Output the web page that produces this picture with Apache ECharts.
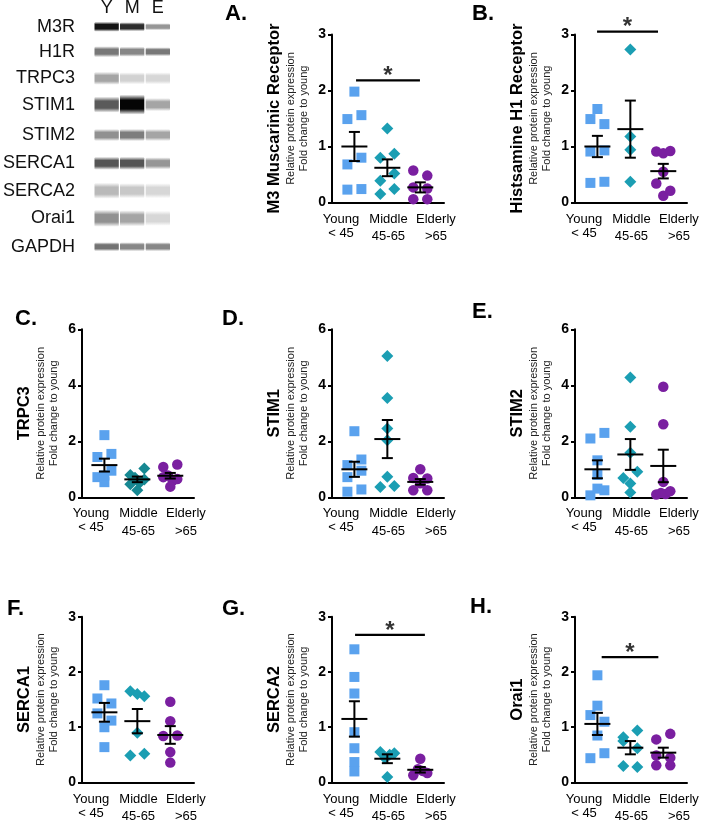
<!DOCTYPE html>
<html>
<head>
<meta charset="utf-8">
<script src="https://cdn.jsdelivr.net/npm/echarts@6/dist/echarts.min.js"></script>
<style>
html,body{margin:0;padding:0;background:#fff;}
#c{width:702px;height:823px;}
</style>
</head>
<body>
<div id="c"></div>
<script>
// ---------------- DATA ----------------
const groups = ['Young', 'Middle', 'Elderly'];
const groupSub = ['< 45', '45-65', '>65'];
const panelLetters = ['A.', 'B.', 'C.', 'D.', 'E.', 'F.', 'G.', 'H.'];
const proteinTitles = ['M3 Muscarinic Receptor', 'Histsamine H1 Receptor', 'TRPC3', 'STIM1', 'STIM2', 'SERCA1', 'SERCA2', 'Orai1'];
const yAxisLine1 = 'Relative protein expression';
const yAxisLine2 = 'Fold change to young';
const yMaxes = [3, 3, 6, 6, 6, 3, 3, 3];
const yIntervals = [1, 1, 2, 2, 2, 1, 1, 1];

// A. M3 muscarinic receptor
const m3Young = [1.49, 1.98, 1.56, 0.68, 0.80, 0.23, 0.24];
const m3Middle = [1.32, 0.80, 0.87, 0.39, 0.52, 0.15, 0.24];
const m3Elderly = [0.57, 0.48, 0.27, 0.25, 0.06, 0.06];
const m3Mean = [1.00, 0.62, 0.27];
const m3Sem = [0.26, 0.15, 0.09];
// B. Histamine H1 receptor
const h1Young = [1.67, 1.49, 1.40, 0.91, 0.93, 0.35, 0.37];
const h1Middle = [2.73, 1.18, 0.94, 0.37];
const h1Elderly = [0.91, 0.88, 0.92, 0.55, 0.12, 0.34, 0.21];
const h1Mean = [1.00, 1.31, 0.56];
const h1Sem = [0.19, 0.51, 0.13];
// C. TRPC3
const trpc3Young = [2.22, 1.44, 1.55, 0.54, 0.72, 0.78, 0.95];
const trpc3Middle = [0.80, 1.03, 0.47, 0.70, 0.52, 0.64, 0.25];
const trpc3Elderly = [1.08, 1.17, 0.72, 0.78, 0.60, 0.65, 0.38];
const trpc3Mean = [1.15, 0.64, 0.77];
const trpc3Sem = [0.23, 0.10, 0.10];
// D. STIM1
const stim1Young = [2.36, 1.15, 1.35, 0.72, 0.95, 0.20, 0.28];
const stim1Middle = [5.05, 3.55, 2.46, 2.04, 0.73, 0.37, 0.40];
const stim1Elderly = [1.00, 0.69, 0.50, 0.67, 0.25, 0.25];
const stim1Mean = [1.00, 2.08, 0.55];
const stim1Sem = [0.27, 0.68, 0.10];
// E. STIM2
const stim2Young = [2.10, 2.30, 1.32, 0.80, 0.07, 0.31, 0.25];
const stim2Middle = [4.28, 2.52, 1.59, 0.69, 0.91, 0.17, 0.49];
const stim2Elderly = [3.95, 2.61, 0.55, 0.10, 0.15, 0.12, 0.22];
const stim2Mean = [1.00, 1.53, 1.12];
const stim2Sem = [0.32, 0.55, 0.58];
// F. SERCA1
const serca1Young = [1.76, 1.52, 1.43, 1.25, 1.12, 1.00, 0.64];
const serca1Middle = [1.65, 1.60, 1.56, 0.90, 0.49, 0.52];
const serca1Elderly = [1.46, 1.11, 0.84, 0.85, 0.55, 0.36];
const serca1Mean = [1.27, 1.11, 0.86];
const serca1Sem = [0.17, 0.22, 0.16];
// G. SERCA2
const serca2Young = [2.41, 1.91, 1.61, 0.91, 0.62, 0.37, 0.20];
const serca2Middle = [0.55, 0.44, 0.50, 0.53, 0.10];
const serca2Elderly = [0.13, 0.24, 0.43, 0.21, 0.17];
const serca2Mean = [1.15, 0.43, 0.23];
const serca2Sem = [0.32, 0.08, 0.05];
// H. Orai1
const orai1Young = [1.94, 1.39, 1.22, 1.10, 0.85, 0.44, 0.53];
const orai1Middle = [0.82, 0.94, 0.75, 0.62, 0.30, 0.28];
const orai1Elderly = [0.78, 0.88, 0.49, 0.45, 0.31, 0.31];
const orai1Mean = [1.06, 0.63, 0.54];
const orai1Sem = [0.20, 0.12, 0.09];

// significance (Young vs Elderly) : panel index, from/to (group index), height
const sigPanel = [0, 1, 6, 7];
const sigFrom = [0.05, -0.01, 0.02, 0.13];
const sigTo = [1.99, 1.84, 2.14, 1.85];
const sigY = [2.18, 3.05, 2.67, 2.27];
const sigText = ['*', '*', '*', '*'];

// western blot
const blotRows = ['M3R', 'H1R', 'TRPC3', 'STIM1', 'STIM2', 'SERCA1', 'SERCA2', 'Orai1', 'GAPDH'];
const blotLanes = ['Y', 'M', 'E'];
const blotGray = [
  [20, 45, 150], [120, 135, 120], [165, 210, 215], [90, 5, 165], [145, 125, 165],
  [85, 85, 150], [185, 200, 215], [145, 165, 215], [115, 135, 135]
];

// ---------------- LAYOUT / STYLE ----------------
const FONT = '"Liberation Sans", Arial, Helvetica, sans-serif';
const PLOT_W = 112, PLOT_H = 168;
const GRID_LEFT = [332, 575, 82, 332, 575, 82, 332, 575];
const GRID_TOP = [34.5, 34.5, 329.3, 329.3, 329.3, 616.7, 616.7, 616.7];
const LETTER_POS = [[225, 7], [472, 7], [15, 312], [222, 312], [472, 305], [7, 602], [222, 602], [470, 600]];
const PT_MIN = -0.68, PT_MAX = 2.72;   // point axis
const LB_MIN = -0.19, LB_MAX = 2.17;   // label axis
const SPREAD = 7 / (PLOT_W / (PT_MAX - PT_MIN));
const CLUSTER_PX = 8;
const SYMBOLS = ['rect', 'diamond', 'circle'];
const SYMBOL_SIZES = [10, 12, 10.5];
const COLORS = ['#5aa2ee', '#1b9eb3', '#7a1fa0'];
const C_TEAL = '#168892';
const BLOT_ROW_Y = [26.7, 51.7, 78.3, 104.6, 135, 163.3, 190.7, 218.3, 246.7];
const BLOT_BAND_H = [[6, 5, 3], [7, 6, 5], [9, 8, 8], [12, 16, 9], [8, 8, 8], [9, 9, 8], [12, 11, 11], [13, 12, 11], [5, 5, 5]];
const BLOT_LANE_X = [94.5, 120, 145.7];
const BLOT_LANE_W = 24.3;

const panelValues = [
  [m3Young, m3Middle, m3Elderly], [h1Young, h1Middle, h1Elderly],
  [trpc3Young, trpc3Middle, trpc3Elderly], [stim1Young, stim1Middle, stim1Elderly],
  [stim2Young, stim2Middle, stim2Elderly], [serca1Young, serca1Middle, serca1Elderly],
  [serca2Young, serca2Middle, serca2Elderly], [orai1Young, orai1Middle, orai1Elderly]
];
const panelMeans = [m3Mean, h1Mean, trpc3Mean, stim1Mean, stim2Mean, serca1Mean, serca2Mean, orai1Mean];
const panelSems = [m3Sem, h1Sem, trpc3Sem, stim1Sem, stim2Sem, serca1Sem, serca2Sem, orai1Sem];

// beeswarm-like horizontal spreading of points with close values
function swarmOffsets(vals, yMax) {
  const thr = CLUSTER_PX / (PLOT_H / yMax);
  const sorted = vals.map((v, i) => ({ v, i })).sort((a, b) => b.v - a.v || a.i - b.i);
  const off = new Array(vals.length).fill(0);
  let k = 0;
  while (k < sorted.length) {
    const anchor = sorted[k].v;
    let j = k;
    while (j < sorted.length && anchor - sorted[j].v < thr) j++;
    const mem = sorted.slice(k, j).sort((a, b) => a.i - b.i);
    const n = mem.length;
    mem.forEach((m, q) => { off[m.i] = n === 1 ? 0 : (-1 + 2 * q / (n - 1)) * SPREAD; });
    k = j;
  }
  return off;
}

const grids = [], xAxes = [], yAxes = [], series = [], graphics = [];

for (let p = 0; p < 8; p++) {
  grids.push({ left: GRID_LEFT[p], top: GRID_TOP[p], width: PLOT_W, height: PLOT_H, containLabel: false });
  xAxes.push({ type: 'value', gridIndex: p, min: PT_MIN, max: PT_MAX, show: false });
  xAxes.push({
    type: 'value', gridIndex: p, min: LB_MIN, max: LB_MAX, position: 'bottom',
    axisLine: { show: true, onZero: false, lineStyle: { color: '#000', width: 2 } },
    axisTick: { show: false }, splitLine: { show: false },
    axisLabel: {
      customValues: [0, 1, 2], margin: 9, color: '#000', fontFamily: FONT,
      formatter: function (v) {
        const i = Math.round(v);
        return '{a|' + groups[i] + '}\n{' + (i === 0 ? 'b' : 'c') + '|' + groupSub[i] + '}';
      },
      rich: {
        a: { fontSize: 13, lineHeight: 15, fontFamily: FONT, color: '#000' },
        b: { fontSize: 13, lineHeight: 13, fontFamily: FONT, color: '#000' },
        c: { fontSize: 13, lineHeight: 20, fontFamily: FONT, color: '#000' }
      }
    }
  });
  yAxes.push({
    type: 'value', gridIndex: p, min: 0, max: yMaxes[p], interval: yIntervals[p],
    axisLine: { show: true, onZero: false, lineStyle: { color: '#000', width: 2 } },
    axisTick: { show: true, length: 4, lineStyle: { color: '#000', width: 2 } },
    splitLine: { show: false },
    axisLabel: { fontFamily: FONT, fontWeight: 'bold', fontSize: 14, color: '#000', margin: 6 },
    name: '{t|' + proteinTitles[p] + '}\n{s|' + yAxisLine1 + '}\n{s|' + yAxisLine2 + '}',
    nameLocation: 'middle', nameRotate: 90, nameGap: 22,
    nameTextStyle: {
      align: 'center',
      rich: {
        t: { fontFamily: FONT, fontSize: 16.5, fontWeight: 'bold', lineHeight: 19, color: '#000', align: 'center' },
        s: { fontFamily: FONT, fontSize: 11, lineHeight: 13, color: '#222', align: 'center' }
      }
    }
  });

  for (let g = 0; g < 3; g++) {
    const vals = panelValues[p][g];
    const off = swarmOffsets(vals, yMaxes[p]);
    const color = (p === 2 && g === 1) ? C_TEAL : COLORS[g];
    series.push({
      type: 'scatter', xAxisIndex: 2 * p, yAxisIndex: p,
      symbol: SYMBOLS[g], symbolSize: SYMBOL_SIZES[g],
      itemStyle: { color: color, opacity: 1 },
      data: vals.map((v, i) => [g + off[i], v]),
      z: 2, silent: true
    });
  }

  series.push({
    type: 'custom', xAxisIndex: 2 * p, yAxisIndex: p, z: 5, silent: true,
    data: panelMeans[p].map((m, g) => [g, m, panelSems[p][g]]),
    renderItem: function (params, api) {
      const x = api.value(0), m = api.value(1), s = api.value(2);
      const c = api.coord([x, m]);
      const hi = api.coord([x, m + s]);
      const lo = api.coord([x, m - s]);
      const st = { stroke: '#000', lineWidth: 2, fill: null };
      return {
        type: 'group', children: [
          { type: 'line', shape: { x1: c[0] - 13, y1: c[1], x2: c[0] + 13, y2: c[1] }, style: st },
          { type: 'line', shape: { x1: c[0], y1: hi[1], x2: c[0], y2: lo[1] }, style: st },
          { type: 'line', shape: { x1: c[0] - 5.5, y1: hi[1], x2: c[0] + 5.5, y2: hi[1] }, style: st },
          { type: 'line', shape: { x1: c[0] - 5.5, y1: lo[1], x2: c[0] + 5.5, y2: lo[1] }, style: st }
        ]
      };
    }
  });

  graphics.push({
    type: 'text', left: LETTER_POS[p][0], top: LETTER_POS[p][1] - 4,
    style: { text: panelLetters[p], font: 'bold 22px ' + FONT, fill: '#000' }
  });
}

sigPanel.forEach((p, k) => {
  series.push({
    type: 'line', xAxisIndex: 2 * p, yAxisIndex: p, clip: false, silent: true,
    symbol: 'none', lineStyle: { color: '#000', width: 2.2 }, z: 4,
    data: [[sigFrom[k], sigY[k]], [sigTo[k], sigY[k]]]
  });
  series.push({
    type: 'scatter', xAxisIndex: 2 * p, yAxisIndex: p, clip: false, silent: true,
    symbolSize: 1, itemStyle: { color: 'rgba(0,0,0,0)' }, z: 4,
    data: [[(sigFrom[k] + sigTo[k]) / 2, sigY[k]]],
    label: {
      show: true, formatter: sigText[k], position: 'inside', offset: [0, -4],
      fontFamily: FONT, fontWeight: 'bold', fontSize: 24, color: '#000'
    }
  });
});

// western blot panel
blotLanes.forEach((ln, j) => {
  graphics.push({
    type: 'text', x: BLOT_LANE_X[j] + BLOT_LANE_W / 2, y: 8,
    style: { text: ln, font: '18px ' + FONT, fill: '#111', textAlign: 'center', textVerticalAlign: 'middle' }
  });
});
blotRows.forEach((name, r) => {
  graphics.push({
    type: 'text', x: 75, y: BLOT_ROW_Y[r],
    style: { text: name, font: '18px ' + FONT, fill: '#111', textAlign: 'right', textVerticalAlign: 'middle' }
  });
  for (let j = 0; j < 3; j++) {
    const gv = blotGray[r][j];
    const h = BLOT_BAND_H[r][j] + 4;
    const rgb = 'rgb(' + gv + ',' + gv + ',' + gv + ')';
    const rgba0 = 'rgba(' + gv + ',' + gv + ',' + gv + ',0)';
    graphics.push({
      type: 'rect',
      shape: { x: BLOT_LANE_X[j], y: BLOT_ROW_Y[r] - h / 2, width: BLOT_LANE_W, height: h, r: 1.5 },
      style: {
        fill: new echarts.graphic.LinearGradient(0, 0, 0, 1, [
          { offset: 0, color: rgba0 }, { offset: 0.28, color: rgb },
          { offset: 0.72, color: rgb }, { offset: 1, color: rgba0 }
        ])
      }
    });
  }
});

const chart = echarts.init(document.getElementById('c'), null, { renderer: 'canvas' });
chart.setOption({
  animation: false,
  backgroundColor: '#fff',
  textStyle: { fontFamily: FONT },
  grid: grids, xAxis: xAxes, yAxis: yAxes, series: series, graphic: graphics
});
</script>
</body>
</html>
